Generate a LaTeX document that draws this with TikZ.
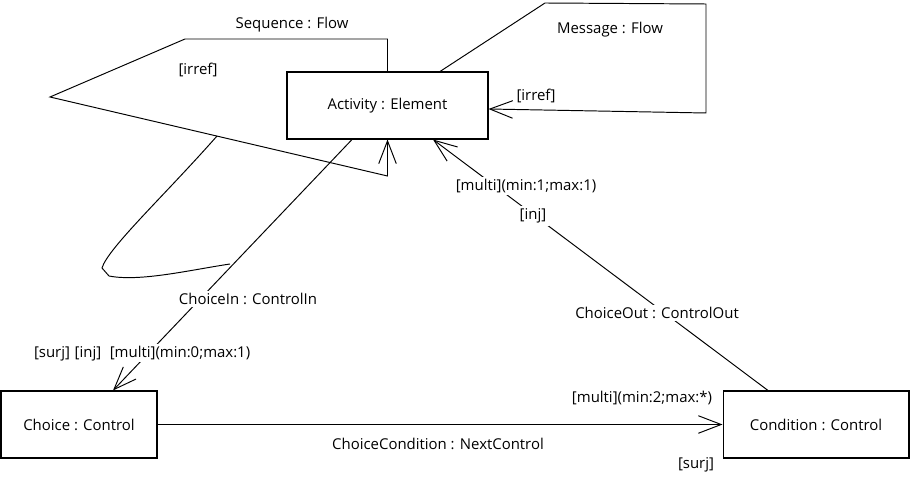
\documentclass[tikz,border=0pt]{standalone}
\usepackage{fontspec}
\setmainfont{Open Sans}
\usetikzlibrary{arrows.meta,calc}

\begin{document}
\begin{tikzpicture}[
    x=0.02cm,y=-0.02cm,
    >={Straight Barb[length=13pt,width=10pt]},
    every node/.style={font=\fontsize{8.5}{10}\selectfont},
    box/.style={draw,line width=0.6pt,minimum width=#1,minimum height=1.34cm,inner sep=0pt},
    link/.style={line width=0.55pt},
    tag/.style={fill=white,inner sep=1.5pt}
  ]
  \path[use as bounding box] (0,0) rectangle (911,479);
  \node[box=4.02cm] (act) at (387.5,105.5) {Activity : Element};
  \node[box=3.12cm] (choice) at (79,424.5) {Choice : Control};
  \node[box=3.72cm] (cond) at (816,424.5) {Condition : Control};

  % Sequence loop
  \coordinate (seqA) at (387.5,39);
  \coordinate (seqB) at (185,39);
  \coordinate (seqC) at (50,97);
  \coordinate (seqD) at (387.5,176);
  \draw[link,->] (act.north) -- (seqA) -- (seqB) -- (seqC) -- (seqD) -- (act.south);
  \node at (292,25) {Sequence : Flow};
  \node at (198,70) {[irref]};

  % Message loop
  \coordinate (msgA) at (545,3);
  \coordinate (msgB) at (706,4);
  \coordinate (msgC) at (706,113);
  \draw[link,->] ($(act.north)+(52.5,0)$) -- (msgA) -- (msgB) -- (msgC)
    -- ($(act.east)+(0,3.5)$);
  \node at (610,30) {Message : Flow};
  \node at (536,96) {[irref]};

  % stray curve
  \coordinate (curA) at (217,136);
  \coordinate (curB) at (230,264);
  \draw[link] (curA) .. controls (165,195) and (108,248) .. (102,268)
    -- (109,276) .. controls (140,282) and (190,270) .. (curB);

  % ChoiceIn
  \draw[link,->] ($(act.south)+(-35.5,0)$) -- ($(choice.north)+(34,0)$);
  \node[tag] at (248,299) {ChoiceIn : ControlIn};
  \node[tag] at (180,353) {[multi](min:0;max:1)};
  \node at (88,354) {[inj]};
  \node at (52,354) {[surj]};

  % ChoiceOut
  \draw[link,->] ($(cond.north)+(-48,0)$) -- ($(act.south)+(45.5,0)$);
  \node[tag] at (526,186) {[multi](min:1;max:1)};
  \node[tag] at (533,216) {[inj]};
  \node[tag] at (657,313) {ChoiceOut : ControlOut};

  % ChoiceCondition
  \draw[link,->] (choice.east) -- (cond.west);
  \node at (438,444) {ChoiceCondition : NextControl};
  \node at (642,398) {[multi](min:2;max:*)};
  \node at (696,465) {[surj]};
\end{tikzpicture}
\end{document}
